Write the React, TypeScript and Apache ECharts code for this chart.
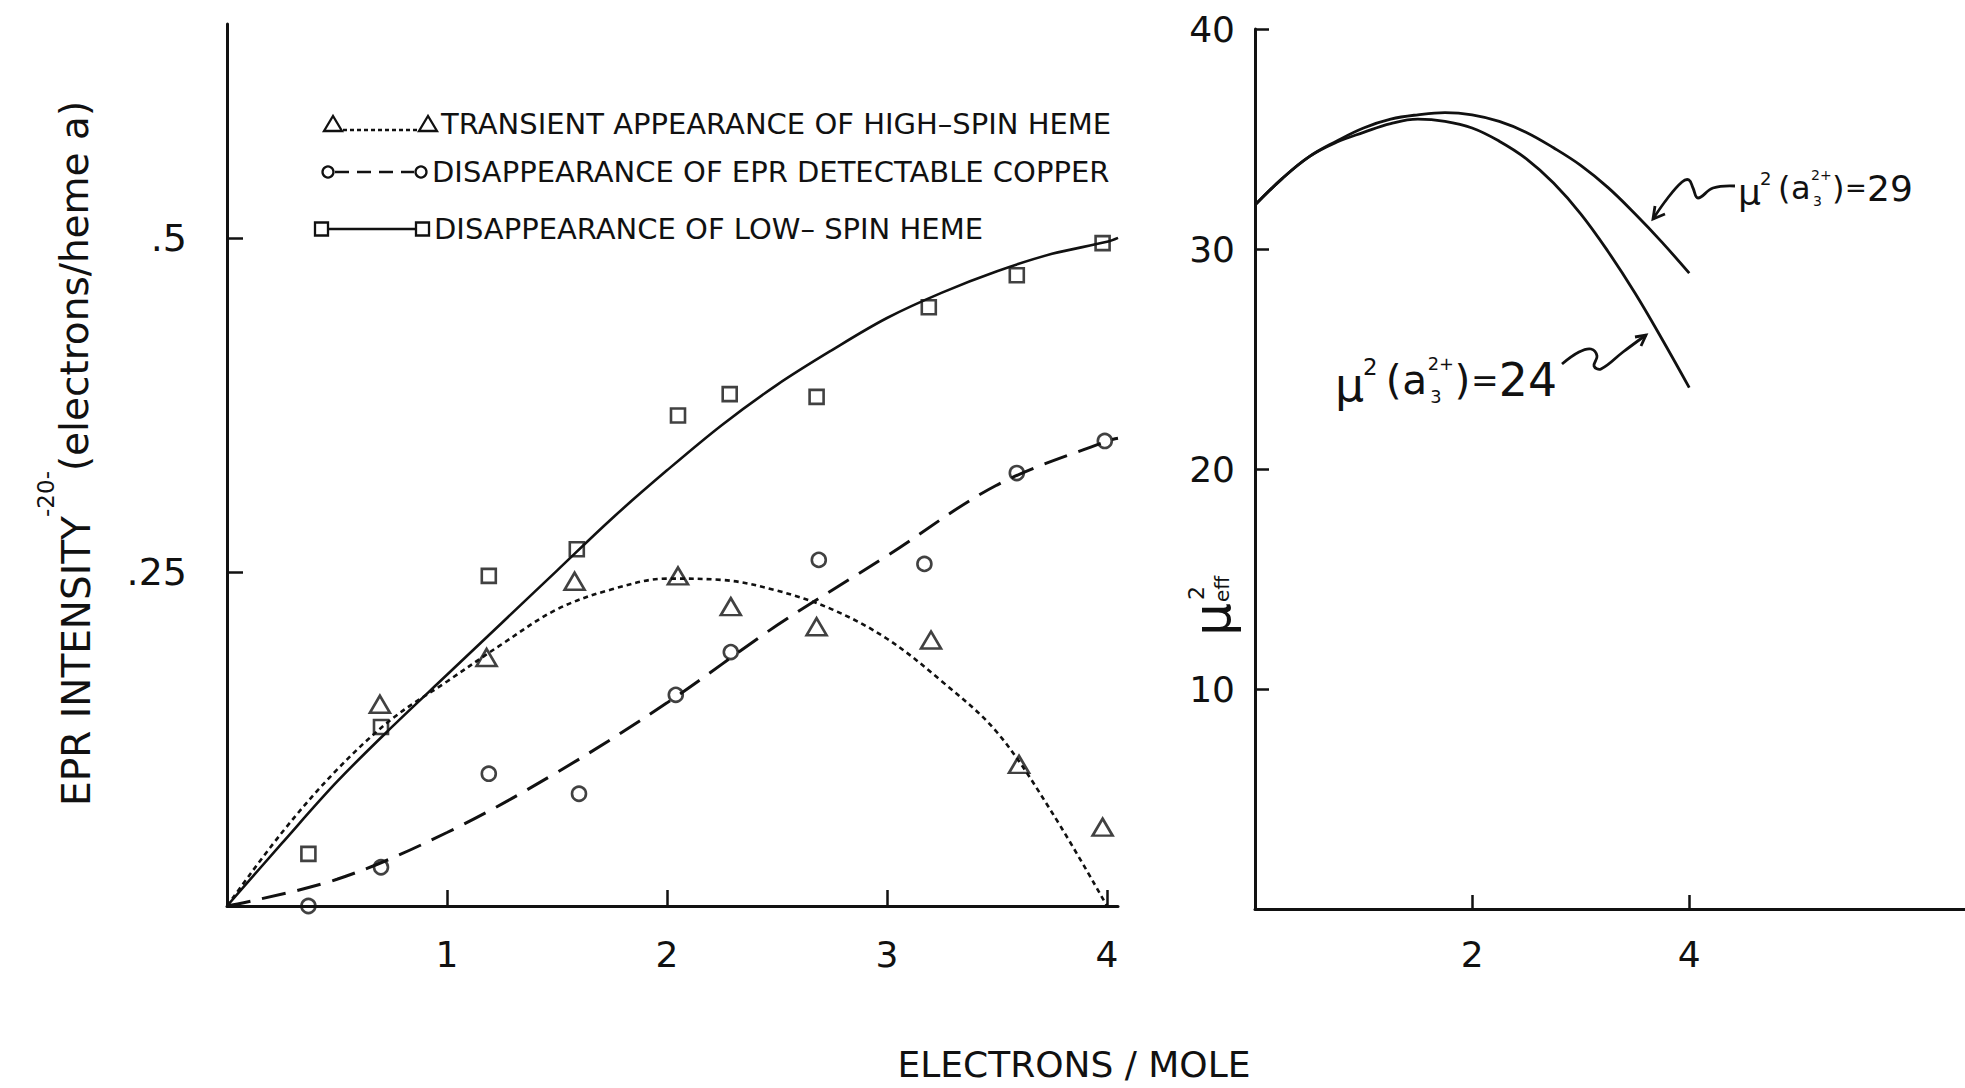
import React, { useEffect, useRef } from 'react';
import * as echarts from 'echarts';

// ---------- data (left panel: EPR intensity vs electrons/mole) ----------
const lowSpinX = [0.37, 0.70, 1.19, 1.59, 2.05, 2.285, 2.68, 3.19, 3.59, 3.98];
const lowSpinY = [0.039, 0.134, 0.247, 0.267, 0.367, 0.383, 0.381, 0.448, 0.472, 0.496];

const copperX = [0.37, 0.70, 1.19, 1.60, 2.04, 2.29, 2.69, 3.17, 3.59, 3.99];
const copperY = [0.0, 0.029, 0.099, 0.084, 0.158, 0.190, 0.259, 0.256, 0.324, 0.348];

const highSpinX = [0.695, 1.18, 1.58, 2.05, 2.29, 2.68, 3.20, 3.60, 3.98];
const highSpinY = [0.151, 0.186, 0.243, 0.247, 0.224, 0.209, 0.199, 0.106, 0.059];

// hand-drawn fitted curves
const lowSpinFitX = [0, 0.25, 0.5, 0.75, 1, 1.25, 1.5, 1.75, 2, 2.25, 2.5, 2.75, 3, 3.25, 3.5, 3.75, 4, 4.05];
const lowSpinFitY = [0, 0.047, 0.093, 0.134, 0.173, 0.212, 0.251, 0.29, 0.326, 0.36, 0.39, 0.416, 0.44, 0.459, 0.475, 0.488, 0.497, 0.5];

const copperFitX = [0, 0.5, 1, 1.5, 2, 2.5, 3, 3.5, 4, 4.05];
const copperFitY = [0, 0.02, 0.055, 0.1, 0.152, 0.21, 0.262, 0.315, 0.348, 0.35];

const highSpinFitX = [0, 0.25, 0.5, 0.75, 1, 1.25, 1.5, 1.75, 2, 2.25, 2.5, 2.75, 3, 3.25, 3.5, 3.75, 4];
const highSpinFitY = [0, 0.055, 0.102, 0.14, 0.168, 0.196, 0.222, 0.237, 0.245, 0.244, 0.236, 0.222, 0.2, 0.168, 0.13, 0.07, 0];

// ---------- data (right panel: mu^2 eff) ----------
const muX = [0, 0.25, 0.5, 0.75, 1, 1.25, 1.5, 1.75, 2, 2.25, 2.5, 2.75, 3, 3.25, 3.5, 3.75, 4];
const mu29Y = [32.0, 33.2, 34.2, 34.9, 35.5, 35.9, 36.1, 36.2, 36.1, 35.8, 35.3, 34.6, 33.8, 32.8, 31.6, 30.3, 28.9];
const mu24Y = [32.0, 33.2, 34.2, 34.85, 35.3, 35.7, 35.9, 35.8, 35.5, 34.9, 34.1, 33.0, 31.6, 29.9, 28.0, 25.9, 23.7];

// ---------- ticks ----------
const leftXTicks = [1, 2, 3, 4];
const leftXLabels = ['1', '2', '3', '4'];
const leftYTicks = [0.25, 0.5];
const leftYLabels = ['.25', '.5'];
const rightXTicks = [2, 4];
const rightXLabels = ['2', '4'];
const rightYTicks = [10, 20, 30, 40];
const rightYLabels = ['10', '20', '30', '40'];

const legendTexts = [
  'TRANSIENT APPEARANCE OF HIGH–SPIN HEME',
  'DISAPPEARANCE OF EPR DETECTABLE COPPER',
  'DISAPPEARANCE OF LOW– SPIN HEME',
];

const FONT = 'DejaVu Sans';
const INK = '#111';

const zip = (xs: number[], ys: number[]) => xs.map((x, i) => [x, ys[i]]);
const labelOf = (ticks: number[], labels: string[]) => (v: number) => {
  const i = ticks.findIndex((t) => Math.abs(t - v) < 1e-9);
  return i >= 0 ? labels[i] : '';
};

function muLabel(x0: number, cy: number, s: number, value: string) {
  const pieces = [
    { t: 'μ', dx: 0, dy: 4, fs: 36 },
    { t: '2', dx: 22, dy: -10, fs: 18 },
    { t: '(', dx: 40, dy: 0, fs: 32 },
    { t: 'a', dx: 53, dy: 0, fs: 32 },
    { t: '2+', dx: 73, dy: -13, fs: 14 },
    { t: '3', dx: 75, dy: 13, fs: 14 },
    { t: ')', dx: 94, dy: 0, fs: 32 },
    { t: '=', dx: 107, dy: 0, fs: 26 },
    { t: value, dx: 129, dy: 0, fs: 36 },
  ];
  return {
    type: 'group',
    x: x0,
    y: cy,
    children: pieces.map((p) => ({
      type: 'text',
      x: p.dx * s,
      y: p.dy * s,
      style: {
        text: p.t,
        fontSize: p.fs * s,
        lineHeight: p.fs * s,
        fontFamily: FONT,
        fill: INK,
        textAlign: 'left',
        textVerticalAlign: 'middle',
      },
    })),
  };
}

const stroke = (w: number, dash?: number[]) => ({ stroke: INK, lineWidth: w, fill: 'none', lineDash: dash });

function rotText(text: string, x: number, y: number, fontSize: number) {
  return {
    type: 'text',
    x,
    y,
    rotation: Math.PI / 2,
    style: { text, fontSize, fontFamily: FONT, fill: INK, textAlign: 'center', textVerticalAlign: 'middle' },
  };
}

function buildGraphic() {
  const g: any[] = [];
  // legend row 1 (triangles, dotted)
  const r1 = 124;
  g.push({ type: 'polygon', shape: { points: [[324, r1 + 7], [342, r1 + 7], [333, r1 - 8]] }, style: stroke(2.3) });
  g.push({ type: 'line', shape: { x1: 343, y1: r1 + 6, x2: 419, y2: r1 + 6 }, style: stroke(2.3, [4, 3]) });
  g.push({ type: 'polygon', shape: { points: [[419, r1 + 7], [437, r1 + 7], [428, r1 - 8]] }, style: stroke(2.3) });
  // legend row 2 (circles, dashed)
  const r2 = 172;
  g.push({ type: 'circle', shape: { cx: 328, cy: r2, r: 5.5 }, style: stroke(2.3) });
  g.push({ type: 'line', shape: { x1: 335, y1: r2, x2: 414, y2: r2 }, style: stroke(2.6, [14, 8]) });
  g.push({ type: 'circle', shape: { cx: 421, cy: r2, r: 5.5 }, style: stroke(2.3) });
  // legend row 3 (squares, solid)
  const r3 = 229;
  g.push({ type: 'rect', shape: { x: 315, y: r3 - 6.5, width: 13, height: 13 }, style: stroke(2.3) });
  g.push({ type: 'line', shape: { x1: 328, y1: r3, x2: 416, y2: r3 }, style: stroke(2.6) });
  g.push({ type: 'rect', shape: { x: 416, y: r3 - 6.5, width: 13, height: 13 }, style: stroke(2.3) });
  const legendX = [441, 432, 434];
  const legendY = [r1, r2, r3];
  legendTexts.forEach((t, i) => {
    g.push({
      type: 'text',
      x: legendX[i],
      y: legendY[i],
      style: { text: t, fontSize: 29, fontFamily: FONT, fill: INK, textAlign: 'left', textVerticalAlign: 'middle' },
    });
  });

  // left y-axis title (rotated, two parts)
  g.push(rotText('EPR INTENSITY', 76, 661, 39));
  g.push(rotText('(electrons/heme a)', 74, 286, 39));
  // page number
  g.push(rotText('-20-', 46, 494, 23));

  // right y-axis title mu^2 eff (rotated)
  g.push({
    type: 'group',
    x: 1212,
    y: 636,
    rotation: Math.PI / 2,
    children: [
      { type: 'text', x: 0, y: 0, style: { text: 'μ', fontSize: 52, fontFamily: FONT, fill: INK, textAlign: 'left', textVerticalAlign: 'middle' } },
      { type: 'text', x: 36, y: -16, style: { text: '2', fontSize: 22, lineHeight: 22, fontFamily: FONT, fill: INK, textAlign: 'left', textVerticalAlign: 'middle' } },
      { type: 'text', x: 34, y: 10, style: { text: 'eff', fontSize: 20, lineHeight: 20, fontFamily: FONT, fill: INK, textAlign: 'left', textVerticalAlign: 'middle' } },
    ],
  });

  // x-axis title
  g.push({
    type: 'text',
    x: 1074,
    y: 1064,
    style: { text: 'ELECTRONS / MOLE', fontSize: 36, fontFamily: FONT, fill: INK, textAlign: 'center', textVerticalAlign: 'middle' },
  });

  // annotations on right panel
  g.push(muLabel(1738, 188, 1, '29'));
  g.push(muLabel(1335, 380, 1.27, '24'));

  // curly arrow to upper curve
  g.push({
    type: 'polyline',
    shape: {
      points: [[1735, 186], [1713, 188], [1698, 198], [1693, 188], [1689, 180], [1682, 182], [1667, 199], [1653, 219]],
      smooth: 0.4,
    },
    style: stroke(2.8),
  });
  g.push({ type: 'polyline', shape: { points: [[1655, 206], [1653, 219], [1665, 214]] }, style: stroke(2.8) });

  // curly arrow to lower curve
  g.push({
    type: 'polyline',
    shape: {
      points: [[1562, 364], [1579, 352], [1591, 349], [1597, 356], [1594, 366], [1601, 369], [1623, 352], [1646, 335]],
      smooth: 0.4,
    },
    style: stroke(2.8),
  });
  g.push({ type: 'polyline', shape: { points: [[1635, 337], [1646, 335], [1641, 346]] }, style: stroke(2.8) });

  return g;
}

const axisLine = { show: true, onZero: false, lineStyle: { color: INK, width: 3 } };
const tickStyle = { color: INK, width: 2.5 };
const labelStyle = { color: INK, fontSize: 36, fontFamily: FONT };
const hollow = { color: 'rgba(255,255,255,0)', borderColor: INK, borderWidth: 2.6 };

const option: any = {
  animation: false,
  backgroundColor: '#fff',
  textStyle: { fontFamily: FONT },
  grid: [
    { left: 227, top: 24, width: 891, height: 882, outerBoundsMode: 'none', containLabel: false },
    { left: 1255, top: 29, width: 710, height: 880, outerBoundsMode: 'none', containLabel: false },
  ],
  xAxis: [
    {
      type: 'value', gridIndex: 0, min: 0, max: 4.05,
      axisLine, splitLine: { show: false },
      axisTick: { show: true, inside: true, length: 16, lineStyle: tickStyle, customValues: leftXTicks },
      axisLabel: { ...labelStyle, margin: 30, customValues: leftXTicks, formatter: labelOf(leftXTicks, leftXLabels) },
    },
    {
      type: 'value', gridIndex: 1, min: 0, max: 6.54,
      axisLine, splitLine: { show: false },
      axisTick: { show: true, inside: true, length: 14, lineStyle: tickStyle, customValues: rightXTicks },
      axisLabel: { ...labelStyle, margin: 27, customValues: rightXTicks, formatter: labelOf(rightXTicks, rightXLabels) },
    },
  ],
  yAxis: [
    {
      type: 'value', gridIndex: 0, min: 0, max: 0.66,
      axisLine, splitLine: { show: false },
      axisTick: { show: true, inside: true, length: 16, lineStyle: tickStyle, customValues: leftYTicks },
      axisLabel: { ...labelStyle, fontSize: 38, margin: 40, customValues: leftYTicks, formatter: labelOf(leftYTicks, leftYLabels) },
    },
    {
      type: 'value', gridIndex: 1, min: 0, max: 40,
      axisLine, splitLine: { show: false },
      axisTick: { show: true, inside: true, length: 14, lineStyle: tickStyle, customValues: rightYTicks },
      axisLabel: { ...labelStyle, margin: 20, customValues: rightYTicks, formatter: labelOf(rightYTicks, rightYLabels) },
    },
  ],
  series: [
    {
      name: 'high-spin fit', type: 'line', xAxisIndex: 0, yAxisIndex: 0, smooth: 0.35, showSymbol: false, silent: true,
      data: zip(highSpinFitX, highSpinFitY), lineStyle: { color: INK, width: 2.6, type: [5, 4] },
    },
    {
      name: 'copper fit', type: 'line', xAxisIndex: 0, yAxisIndex: 0, smooth: 0.35, showSymbol: false, silent: true,
      data: zip(copperFitX, copperFitY), lineStyle: { color: INK, width: 3, type: [24, 12] },
    },
    {
      name: 'low-spin fit', type: 'line', xAxisIndex: 0, yAxisIndex: 0, smooth: 0.35, showSymbol: false, silent: true,
      data: zip(lowSpinFitX, lowSpinFitY), lineStyle: { color: INK, width: 2.6 },
    },
    {
      name: 'high-spin', type: 'scatter', xAxisIndex: 0, yAxisIndex: 0, symbol: 'triangle', symbolSize: [20, 17], silent: true,
      data: zip(highSpinX, highSpinY), itemStyle: hollow,
    },
    {
      name: 'copper', type: 'scatter', xAxisIndex: 0, yAxisIndex: 0, symbol: 'circle', symbolSize: 14, silent: true,
      data: zip(copperX, copperY), itemStyle: hollow,
    },
    {
      name: 'low-spin', type: 'scatter', xAxisIndex: 0, yAxisIndex: 0, symbol: 'rect', symbolSize: 14, silent: true,
      data: zip(lowSpinX, lowSpinY), itemStyle: hollow,
    },
    {
      name: 'mu2=29', type: 'line', xAxisIndex: 1, yAxisIndex: 1, smooth: 0.4, showSymbol: false, silent: true,
      data: zip(muX, mu29Y), lineStyle: { color: INK, width: 2.8 },
    },
    {
      name: 'mu2=24', type: 'line', xAxisIndex: 1, yAxisIndex: 1, smooth: 0.4, showSymbol: false, silent: true,
      data: zip(muX, mu24Y), lineStyle: { color: INK, width: 2.8 },
    },
  ],
  graphic: buildGraphic(),
};

export default function App() {
  const ref = useRef<HTMLDivElement>(null);
  useEffect(() => {
    if (!ref.current) return;
    const chart = echarts.init(ref.current, null, { renderer: 'svg' });
    chart.setOption(option);
    return () => chart.dispose();
  }, []);
  return (
    <div
      ref={ref}
      style={{ position: 'absolute', left: 0, top: 0, width: 1965, height: 1088, background: '#fff' }}
    />
  );
}
